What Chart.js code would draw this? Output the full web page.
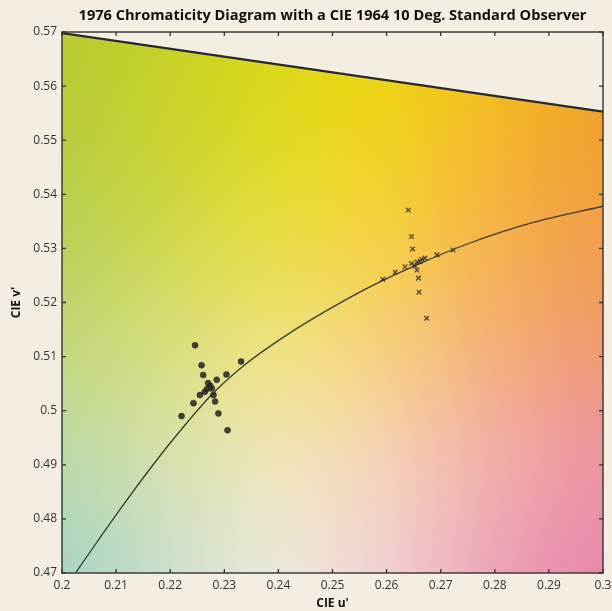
<!DOCTYPE html>
<html>
<head>
<meta charset="utf-8">
<script src="https://cdn.jsdelivr.net/npm/chart.js@4/dist/chart.umd.min.js"></script>
<style>
  html, body { margin: 0; padding: 0; background: #f4eee2; }
  #wrap { width: 612px; height: 611px; position: relative; }
</style>
</head>
<body>
<div id="wrap"><canvas id="chromaChart"></canvas></div>
<script>
"use strict";

// Axis ticks
const xTickValues = [0.2, 0.21, 0.22, 0.23, 0.24, 0.25, 0.26, 0.27, 0.28, 0.29, 0.3];
const xTickLabels = ['0.2', '0.21', '0.22', '0.23', '0.24', '0.25', '0.26', '0.27', '0.28', '0.29', '0.3'];
const yTickValues = [0.47, 0.48, 0.49, 0.5, 0.51, 0.52, 0.53, 0.54, 0.55, 0.56, 0.57];
const yTickLabels = ['0.47', '0.48', '0.49', '0.5', '0.51', '0.52', '0.53', '0.54', '0.55', '0.56', '0.57'];

// Spectrum locus edge (top straight line)
const boundaryU = [0.2, 0.3];
const boundaryV = [0.5698, 0.5553];

// Planckian locus
const locusU = [0.2025, 0.2070, 0.2114, 0.2160, 0.2203, 0.2277, 0.2338, 0.2420, 0.2489, 0.2569, 0.2659, 0.2754, 0.2871, 0.3000];
const locusV = [0.4700, 0.4765, 0.4827, 0.4889, 0.4944, 0.5030, 0.5085, 0.5143, 0.5185, 0.5229, 0.5271, 0.5310, 0.5348, 0.5378];

// Measured sources near 4000 K (dots)
const coolU = [0.2246, 0.2258, 0.2261, 0.2331, 0.2304, 0.2270, 0.2286, 0.2277, 0.2264, 0.2255, 0.2280, 0.2283, 0.2243, 0.2289, 0.2221, 0.2306, 0.2274, 0.2268];
const coolV = [0.5121, 0.5084, 0.5066, 0.5091, 0.5067, 0.5051, 0.5057, 0.5041, 0.5035, 0.5029, 0.5029, 0.5017, 0.5014, 0.4995, 0.4990, 0.4964, 0.5046, 0.5040];

// Measured sources near 2700 K (crosses)
const warmU = [0.2640, 0.2646, 0.2648, 0.2593, 0.2616, 0.2634, 0.2646, 0.2656, 0.2665, 0.2671, 0.2656, 0.2659, 0.2660, 0.2674, 0.2693, 0.2723, 0.2652, 0.2662];
const warmV = [0.5371, 0.5322, 0.5299, 0.5243, 0.5256, 0.5266, 0.5272, 0.5275, 0.5280, 0.5282, 0.5260, 0.5245, 0.5219, 0.5171, 0.5288, 0.5297, 0.5268, 0.5276];

const toPoints = (us, vs) => us.map((u, i) => ({ x: u, y: vs[i] }));

// Colour field painted behind the data (rows top->bottom, cols left->right)
const fieldColors = [
    ['#b8cb32', '#c7d124', '#dad816', '#ecd40e', '#f2bd14', '#f0a41e'],
    ['#b9cc3e', '#cad430', '#e0da22', '#f1d220', '#f3b82e', '#f1a030'],
    ['#bdd05c', '#d1d950', '#e9de4a', '#f5d048', '#f4b24e', '#f09e4e'],
    ['#c2d780', '#d9df82', '#f0e286', '#f6d084', '#f3af7e', '#ef9a76'],
    ['#bad9aa', '#d7e1b0', '#f0e6ba', '#f4d2b8', '#f0aeaa', '#ec94a2'],
    ['#a9d3c4', '#ccdfce', '#ece8dc', '#f1cfd2', '#eca4b8', '#e688aa']
];

const colorField = {
    id: 'colorField',
    beforeDraw(chart) {
        const a = chart.chartArea;
        const rows = fieldColors.length, cols = fieldColors[0].length;
        const off = document.createElement('canvas');
        off.width = cols; off.height = rows;
        const octx = off.getContext('2d');
        fieldColors.forEach((row, r) => row.forEach((c, k) => {
            octx.fillStyle = c;
            octx.fillRect(k, r, 1, 1);
        }));
        const ctx = chart.ctx;
        ctx.save();
        ctx.imageSmoothingEnabled = true;
        ctx.imageSmoothingQuality = 'high';
        ctx.drawImage(off, 0.5, 0.5, cols - 1, rows - 1, a.left, a.top, a.right - a.left, a.bottom - a.top);
        ctx.restore();
    }
};

// Box round the plot with inward ticks on all four sides
const frameTicks = {
    id: 'frameTicks',
    afterDatasetsDraw(chart) {
        const a = chart.chartArea;
        const ctx = chart.ctx;
        const xs = chart.scales.x, ys = chart.scales.y;
        const len = 4;
        ctx.save();
        ctx.strokeStyle = '#333';
        ctx.lineWidth = 1.4;
        ctx.strokeRect(a.left, a.top, a.right - a.left, a.bottom - a.top);
        ctx.lineWidth = 1.3;
        ctx.beginPath();
        xTickValues.forEach(v => {
            const px = xs.getPixelForValue(v);
            ctx.moveTo(px, a.bottom); ctx.lineTo(px, a.bottom - len);
            ctx.moveTo(px, a.top); ctx.lineTo(px, a.top + len);
        });
        yTickValues.forEach(v => {
            const py = ys.getPixelForValue(v);
            ctx.moveTo(a.left, py); ctx.lineTo(a.left + len, py);
            ctx.moveTo(a.right, py); ctx.lineTo(a.right - len, py);
        });
        ctx.stroke();
        ctx.restore();
    }
};

const tickFont = { family: 'Open Sans', size: 12 };
const labelFont = { family: 'Open Sans', size: 12, weight: 'bold' };

const config = {
    type: 'scatter',
    data: {
        datasets: [
            {
                label: 'near 4000 K',
                data: toPoints(coolU, coolV),
                pointStyle: 'circle',
                pointRadius: 3,
                backgroundColor: 'rgba(35,35,35,0.85)',
                borderColor: 'rgba(35,35,35,0.5)',
                borderWidth: 1
            },
            {
                label: 'near 2700 K',
                data: toPoints(warmU, warmV),
                pointStyle: 'crossRot',
                pointRadius: 3.3,
                borderColor: 'rgba(50,45,40,0.85)',
                borderWidth: 1.3
            },
            {
                label: 'Planckian locus',
                data: toPoints(locusU, locusV),
                showLine: true,
                pointRadius: 0,
                borderColor: '#3a3a2e',
                borderWidth: 1.3,
                cubicInterpolationMode: 'monotone'
            },
            {
                label: 'spectrum locus',
                data: toPoints(boundaryU, boundaryV),
                showLine: true,
                pointRadius: 0,
                borderColor: '#2a2a22',
                borderWidth: 2.3,
                fill: 'end',
                backgroundColor: '#f4eee2'
            }
        ]
    },
    options: {
        responsive: true,
        maintainAspectRatio: false,
        animation: false,
        layout: { padding: { left: 0, right: 9, top: 0, bottom: 0 } },
        plugins: {
            legend: { display: false },
            tooltip: { enabled: false },
            title: {
                display: true,
                fullSize: false,
                text: '1976 Chromaticity Diagram with a CIE 1964 10 Deg. Standard Observer',
                color: '#111',
                font: { family: 'Open Sans', size: 14.6, weight: 'bold' },
                padding: { top: 7, bottom: 7.5 }
            }
        },
        scales: {
            x: {
                type: 'linear',
                min: 0.2,
                max: 0.3,
                afterBuildTicks: s => { s.ticks = xTickValues.map(v => ({ value: v })); },
                afterFit: s => { s.height = 38; s.paddingLeft = 0; s.paddingRight = 0; },
                grid: { display: false, drawTicks: false },
                border: { display: false },
                ticks: {
                    color: '#333',
                    font: tickFont,
                    padding: 5,
                    maxRotation: 0,
                    autoSkip: false,
                    callback: (v, i) => xTickLabels[i]
                },
                title: {
                    display: true,
                    text: "CIE u'",
                    color: '#111',
                    font: labelFont,
                    padding: { top: 0, bottom: 0 }
                }
            },
            y: {
                type: 'linear',
                min: 0.47,
                max: 0.57,
                afterBuildTicks: s => { s.ticks = yTickValues.map(v => ({ value: v })); },
                afterFit: s => { s.width = 62; s.paddingTop = 0; s.paddingBottom = 0; },
                grid: { display: false, drawTicks: false },
                border: { display: false },
                ticks: {
                    color: '#333',
                    font: tickFont,
                    padding: 5,
                    autoSkip: false,
                    callback: (v, i) => yTickLabels[i]
                },
                title: {
                    display: true,
                    text: "CIE v'",
                    color: '#111',
                    font: labelFont,
                    padding: { top: 9, bottom: 0 }
                }
            }
        }
    },
    plugins: [colorField, frameTicks]
};

new Chart(document.getElementById('chromaChart').getContext('2d'), config);
</script>
</body>
</html>
